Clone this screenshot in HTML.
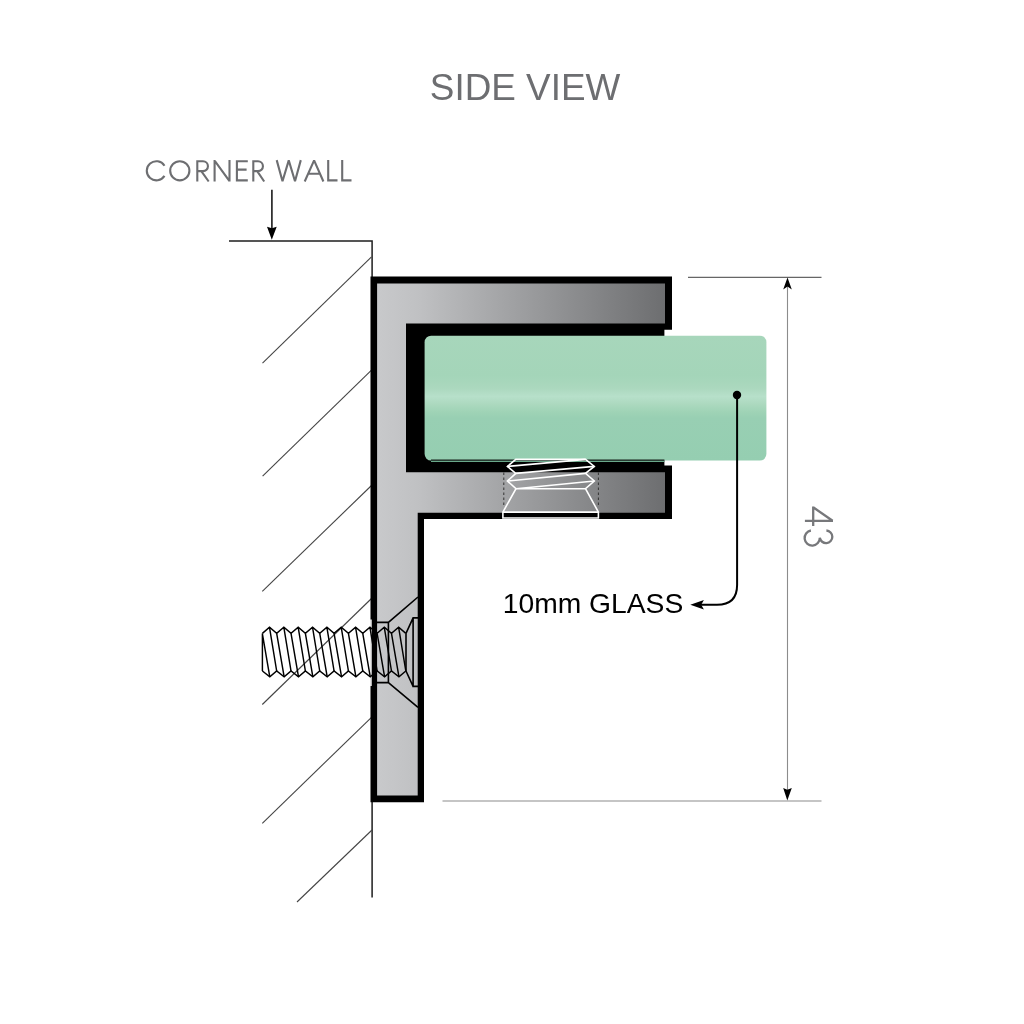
<!DOCTYPE html>
<html><head><meta charset="utf-8"><style>
html,body{margin:0;padding:0;background:#fff;}
svg{display:block;}
svg{will-change:transform;}
</style></head><body>
<svg width="1024" height="1024" viewBox="0 0 1024 1024">
<defs>
<linearGradient id="metal" gradientUnits="userSpaceOnUse" x1="377" y1="0" x2="665" y2="0">
<stop offset="0" stop-color="#c8c9cb"/>
<stop offset="0.14" stop-color="#c0c1c3"/>
<stop offset="1" stop-color="#6d6e70"/>
</linearGradient>
<linearGradient id="glass" gradientUnits="userSpaceOnUse" x1="0" y1="335.7" x2="0" y2="460.6">
<stop offset="0" stop-color="#a7d6bb"/>
<stop offset="0.32" stop-color="#a4d5b9"/>
<stop offset="0.42" stop-color="#abd8be"/>
<stop offset="0.487" stop-color="#b7e0ca"/>
<stop offset="0.547" stop-color="#acd9bf"/>
<stop offset="0.61" stop-color="#9fd3b6"/>
<stop offset="0.66" stop-color="#98cfb3"/>
<stop offset="1" stop-color="#95ceb1"/>
</linearGradient>
</defs>
<rect width="1024" height="1024" fill="#fff"/>
<text x="429.8" y="100" font-family="Liberation Sans" font-size="37" fill="#6d6e71" textLength="190.5" lengthAdjust="spacingAndGlyphs">SIDE VIEW</text>
<g fill="none" stroke="#6d6e71" stroke-width="2.1" stroke-linejoin="miter" stroke-miterlimit="10">
<path d="M164.5 165.7 A9.6 9.6 0 1 0 164.5 175.9"/>
<circle cx="179.8" cy="170.8" r="9.6"/>
<path d="M197.3 181.5 V161.2 H203 A4.95 4.95 0 0 1 203 171.1 H197.3 M201.3 171.1 L208.7 181.5"/>
<path d="M214.6 181.5 V160.1 M214.6 160.6 L229.5 181.1 M229.5 181.5 V160.1"/>
<path d="M247.8 161.2 H236.9 V180.4 H247.8 M236.9 169.6 H246.6"/>
<path d="M253.3 181.5 V161.2 H258 A4.95 4.95 0 0 1 258 171.1 H253.3 M257.2 171.1 L264.2 181.5"/>
<path d="M276.7 160.1 L282.5 181.2 L288.75 160.4 L295 181.2 L300.8 160.1" stroke-miterlimit="2"/>
<path d="M304.7 181.5 L314.1 160.4 L323.4 181.5 M307.7 173.7 H320.2" stroke-miterlimit="2"/>
<path d="M328.2 160.1 V180.4 H337.5 M342.2 160.1 V180.4 H351.5"/>
</g>
<!-- corner wall arrow -->
<line x1="271.9" y1="189.7" x2="271.9" y2="230" stroke="#1a1a1a" stroke-width="1.6"/>
<path d="M267 226.8 L271.9 228.3 L276.7 226.8 L271.8 239.8 Z" fill="#000"/>
<!-- wall -->
<path d="M229 241.1 L372.1 241.1 L372.1 897.4" fill="none" stroke="#1e1e1e" stroke-width="1.5"/>
<g stroke="#444" stroke-width="1.1" fill="none">
<line x1="371.5" y1="256.8" x2="262.5" y2="363.2"/>
<line x1="371.5" y1="370.2" x2="262.6" y2="476.1"/>
<line x1="371.5" y1="485.5" x2="262.3" y2="591.3"/>
<line x1="371.5" y1="598.5" x2="262.3" y2="704.5"/>
<line x1="371.5" y1="717.3" x2="262.3" y2="823.3"/>
<line x1="372" y1="830" x2="297" y2="902"/>
</g>
<!-- bracket outer -->
<path d="M370.5 276.6 L672 276.6 L672 329.8 L664.4 329.8 L664.4 465.6 L672 465.6 L672 518.9 L424 518.9 L424 802.2 L370.5 802.2 Z" fill="#000"/>
<path d="M377.1 283.4 L665 283.4 L665 323.5 L406 323.5 L406 472.2 L665 472.2 L665 512.8 L417.7 512.8 L417.7 795.6 L377.1 795.6 Z" fill="url(#metal)"/>
<rect x="424.6" y="335.7" width="341.8" height="124.9" rx="6.5" ry="6.5" fill="url(#glass)"/>
<rect x="431" y="459.5" width="233.4" height="1.3" fill="#000" opacity="0.85"/>
<rect x="431" y="460.8" width="233.4" height="1.2" fill="#6aa88a"/>
<!-- grub screw -->
<g stroke="#fff" stroke-width="1.6" fill="none" stroke-linejoin="miter">
<path d="M515.8 459.4 L585.5 459.4 L594.3 466.4 L585.5 473.4 L594.3 481 L585.5 488.7 L598.4 512.1 L598.4 518 L502.9 518 L502.9 512.1 L516 488.7 L507.4 481 L515.8 473.4 L507.4 466.4 Z"/>
<path d="M507.4 466.4 L585.5 459.4 M515.8 473.4 L594.3 466.4 M507.4 481 L585.5 473.4 M516 488.7 L594.3 481 M516 488.7 L585.5 488.7 M502.9 512.1 L598.4 512.1"/>
</g>
<g stroke="#333" stroke-width="1" stroke-dasharray="2.5 2.5">
<line x1="503.8" y1="472.5" x2="503.8" y2="506"/>
<line x1="598.4" y1="472.5" x2="598.4" y2="506"/>
</g>
<rect x="370.2" y="619.5" width="1.5" height="66.5" fill="#fff"/>
<!-- countersink -->
<path d="M377 622.4 L388.4 622.4 L418 597 M388.4 622.4 L388.4 682.6 L418 707.4 M377 682.6 L388.4 682.6" fill="none" stroke="#000" stroke-width="1.6"/>
<path d="M406 633.4 L413.1 617.9 L418 617.9 M413.1 617.9 L413.1 686.4 L418 686.4 M406 671 L413.1 686.4 M406 633.4 L406 671" fill="none" stroke="#000" stroke-width="1.6"/>
<polyline points="262.40,633.40 269.50,627.30 276.68,633.40 283.85,627.30 291.02,633.40 298.20,627.30 305.38,633.40 312.55,627.30 319.73,633.40 326.90,627.30 334.07,633.40 341.25,627.30 348.43,633.40 355.60,627.30 362.77,633.40 369.95,627.30 377.12,633.40 384.30,627.30 391.48,633.40 398.65,627.30 405.82,633.40" fill="none" stroke="#000" stroke-width="1.45" stroke-linejoin="miter"/>
<polyline points="262.40,671.00 269.80,676.80 276.68,671.00 284.15,676.80 291.02,671.00 298.50,676.80 305.38,671.00 312.85,676.80 319.73,671.00 327.20,676.80 334.07,671.00 341.55,676.80 348.43,671.00 355.90,676.80 362.77,671.00 370.25,676.80 377.12,671.00 384.60,676.80 391.48,671.00 398.95,676.80 405.82,671.00" fill="none" stroke="#000" stroke-width="1.45" stroke-linejoin="miter"/>
<path d="M262.4 633.4 L262.4 671 M262.32 633.4 L269.80 676.8 M269.50 627.3 L276.68 671.0 M276.68 633.4 L284.15 676.8 M283.85 627.3 L291.02 671.0 M291.02 633.4 L298.50 676.8 M298.20 627.3 L305.38 671.0 M305.38 633.4 L312.85 676.8 M312.55 627.3 L319.73 671.0 M319.73 633.4 L327.20 676.8 M326.90 627.3 L334.07 671.0 M334.07 633.4 L341.55 676.8 M341.25 627.3 L348.43 671.0 M348.43 633.4 L355.90 676.8 M355.60 627.3 L362.77 671.0 M362.77 633.4 L370.25 676.8 M369.95 627.3 L377.12 671.0 M377.12 633.4 L384.60 676.8 M384.30 627.3 L391.48 671.0 M391.48 633.4 L398.95 676.8 M398.65 627.3 L405.82 671.0" fill="none" stroke="#000" stroke-width="1.45"/>
<!-- leader -->
<circle cx="737" cy="395" r="4.2" fill="#000"/>
<path d="M737.1 395 L737.1 585 Q737.1 604.8 717 604.8 L700 604.8" fill="none" stroke="#000" stroke-width="2"/>
<path d="M690.3 604.8 L703.9 600 L701.2 604.8 L703.9 609.6 Z" fill="#000"/>
<text x="502.8" y="613.2" font-family="Liberation Sans" font-size="27.5" fill="#000" textLength="180.5" lengthAdjust="spacingAndGlyphs">10mm GLASS</text>
<!-- dimension -->
<line x1="688" y1="277.4" x2="821.5" y2="277.4" stroke="#666" stroke-width="1.1"/>
<line x1="442.5" y1="801" x2="821.5" y2="801" stroke="#b2b2b2" stroke-width="1.6"/>
<line x1="787.5" y1="285" x2="787.5" y2="792" stroke="#8c8c8c" stroke-width="1.1"/>
<path d="M787.5 277.4 L791.8 289.6 L787.5 286.5 L783.2 289.6 Z" fill="#000"/>
<path d="M787.3 800.4 L783.2 788.1 L787.3 789.8 L791.8 788.1 Z" fill="#000"/>
<g fill="none" stroke="#77787b" stroke-width="2.3">
<path d="M804.9 520.9 H833 M813.2 506.6 V526.1 M813.2 507.3 L832.6 520.7"/>
<path d="M810.9 530.5 A7.6 7.6 0 1 0 819.8 537.8 A6.3 6.3 0 1 0 826.4 530.5"/>
</g>
</svg>
</body></html>
